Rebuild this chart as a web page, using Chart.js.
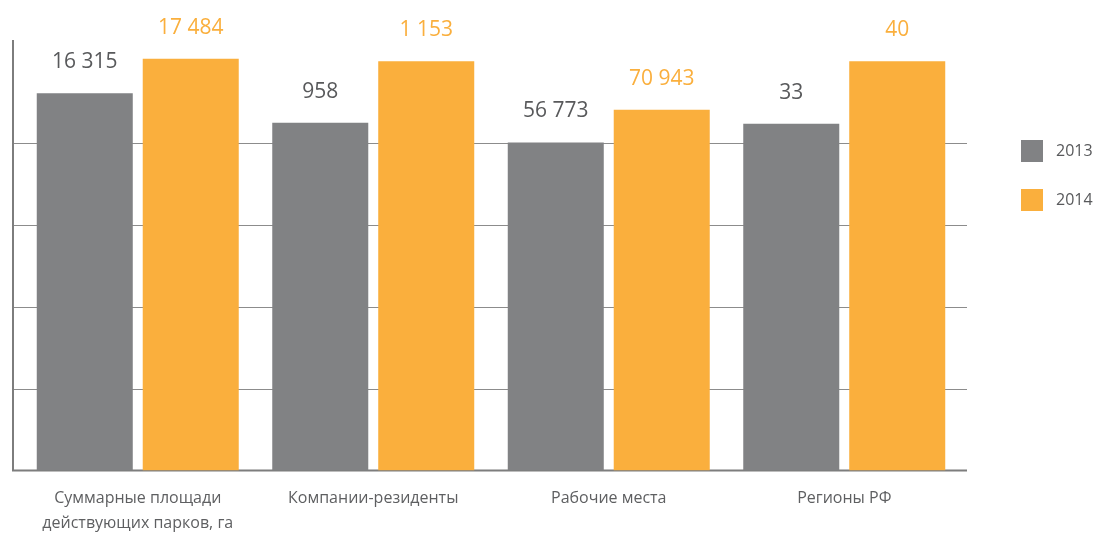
<!DOCTYPE html>
<html lang="ru">
<head>
<meta charset="utf-8">
<title>Индустриальные парки 2013–2014</title>
<script src="https://cdn.jsdelivr.net/npm/chart.js@4/dist/chart.umd.min.js"></script>
<style>
  html, body { margin: 0; padding: 0; background: #fff; }
  .chart-wrap { position: relative; width: 1096px; height: 533px; }
</style>
</head>
<body>
<div class="chart-wrap"><canvas id="parks-chart"></canvas></div>
<script>
// категории и значения (высоты столбцов, в долях шага сетки)
const categories = [
  ['Суммарные площади', 'действующих парков, га'],
  'Компании-резиденты',
  'Рабочие места',
  'Регионы РФ',
];
const years = ['2013', '2014'];
const values2013 = [16315, 958, 56773, 33];
const values2014 = [17484, 1153, 70943, 40];
const heights2013 = [4.60, 4.24, 4.00, 4.23];
const heights2014 = [5.02, 4.99, 4.40, 4.99];
const gridTicks = [1, 2, 3, 4];

const GREY = '#818284';
const ORANGE = '#FAAF3D';
const TEXT = '#58595B';
const FONT = '"Open Sans", "Noto Sans", sans-serif';

const fmt = (n) => String(n).replace(/\B(?=(\d{3})+(?!\d))/g, ' ');

// сетка и оси рисуем сами: линии выходят за область столбцов
const gridPlugin = {
  id: 'grid',
  beforeDatasetsDraw(chart) {
    const { ctx } = chart;
    const y = chart.scales.y;
    const left = 13, right = 967;
    ctx.save();
    ctx.strokeStyle = '#8C8C8C';
    ctx.lineWidth = 1;
    gridTicks.forEach((t) => {
      const py = Math.round(y.getPixelForValue(t)) + 0.5;
      ctx.beginPath(); ctx.moveTo(left, py); ctx.lineTo(right, py); ctx.stroke();
    });
    ctx.strokeStyle = '#7D7D7D';
    ctx.lineWidth = 2;
    const base = y.getPixelForValue(0);
    ctx.beginPath(); ctx.moveTo(left - 1, base); ctx.lineTo(right, base); ctx.stroke();
    ctx.beginPath(); ctx.moveTo(left, y.getPixelForValue(y.max)); ctx.lineTo(left, base); ctx.stroke();
    ctx.restore();
  },
};

const valueLabels = {
  id: 'valueLabels',
  afterDatasetsDraw(chart) {
    const { ctx } = chart;
    ctx.save();
    ctx.font = `21px ${FONT}`;
    ctx.textAlign = 'center';
    ctx.textBaseline = 'middle';
    chart.data.datasets.forEach((ds, i) => {
      ctx.fillStyle = ds.labelColor;
      chart.getDatasetMeta(i).data.forEach((bar, j) => {
        ctx.fillText(fmt(ds.values[j]), bar.x, bar.y - 31);
      });
    });
    ctx.restore();
  },
};

const sideLegend = {
  id: 'sideLegend',
  afterDraw(chart) {
    const { ctx } = chart;
    ctx.save();
    ctx.font = `16px ${FONT}`;
    ctx.textBaseline = 'middle';
    chart.data.datasets.forEach((ds, i) => {
      const top = 140 + i * 49;
      ctx.fillStyle = ds.backgroundColor;
      ctx.fillRect(1021, top, 22, 22);
      ctx.fillStyle = TEXT;
      ctx.fillText(ds.label, 1056, top + 11);
    });
    ctx.restore();
  },
};

new Chart(document.getElementById('parks-chart'), {
  type: 'bar',
  data: {
    labels: categories,
    datasets: [
      { label: years[0], data: heights2013, values: values2013, backgroundColor: GREY, labelColor: TEXT },
      { label: years[1], data: heights2014, values: values2014, backgroundColor: ORANGE, labelColor: ORANGE },
    ],
  },
  options: {
    responsive: true,
    maintainAspectRatio: false,
    animation: false,
    events: [],
    layout: { padding: { top: 40, left: 20, right: 134, bottom: 0 } },
    categoryPercentage: 0.9,
    barPercentage: 0.906,
    plugins: { legend: { display: false }, tooltip: { enabled: false } },
    scales: {
      x: {
        grid: { display: false, drawTicks: false },
        border: { display: false },
        ticks: {
          color: '#5E5F61',
          padding: 16,
          maxRotation: 0,
          autoSkip: false,
          font: { family: FONT, size: 16, lineHeight: 1.55 },
        },
        afterFit(scale) { scale.height = 62.5; },
      },
      y: {
        display: false,
        min: 0,
        max: 5.25,
      },
    },
  },
  plugins: [gridPlugin, valueLabels, sideLegend],
});
</script>
</body>
</html>
